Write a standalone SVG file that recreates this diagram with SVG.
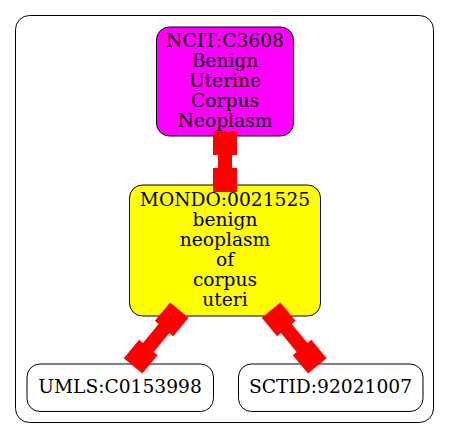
<svg xmlns="http://www.w3.org/2000/svg" width="451" height="439" viewBox="0 0 451 439">
<style>
text{font-family:"DejaVu Serif","Liberation Serif",serif;font-size:18.67px;text-anchor:middle;fill:#000}
.n{stroke:#000;stroke-width:1}
.e{fill:#f00}
</style>
<defs>
<path id="vedge" d="M-12,-30.5 h24 v24 h-5 v13 h5 v24 h-24 v-24 h5 v-13 h-5 z"/>
<path id="dedge" d="M-12,-36.3 h24 v24 h-5 v24.6 h5 v24 h-24 v-24 h5 v-24.6 h-5 z"/>
</defs>
<rect width="451" height="439" fill="#fff"/>
<g id="cluster">
<rect x="15.5" y="15.5" width="418" height="407" rx="14" fill="none" stroke="#000"/>
</g>
<g id="ncit">
<rect class="n" x="156.5" y="27" width="137" height="109" rx="13" fill="#f0f"/>
<text x="225" y="46.7">NCIT:C3608</text>
<text x="225" y="66.7">Benign</text>
<text x="225" y="86.7">Uterine</text>
<text x="225" y="106.7">Corpus</text>
<text x="225" y="126.7">Neoplasm</text>
</g>
<g id="mondo">
<rect class="n" x="129.5" y="185" width="191" height="131" rx="13" fill="#ff0"/>
<text x="225" y="205.7">MONDO:0021525</text>
<text x="225" y="225.7">benign</text>
<text x="225" y="245.7">neoplasm</text>
<text x="225" y="265.7">of</text>
<text x="225" y="285.7">corpus</text>
<text x="225" y="305.7">uteri</text>
</g>
<g id="umls">
<rect class="n" x="27" y="364" width="186.5" height="47.5" rx="13" fill="#fff"/>
<text x="120" y="393.3">UMLS:C0153998</text>
</g>
<g id="sctid">
<rect class="n" x="238.5" y="364" width="184.5" height="47.5" rx="13" fill="#fff"/>
<text x="330.5" y="393.3">SCTID:92021007</text>
</g>
<g id="edges">
<use class="e" href="#vedge" transform="translate(225,161.5)"/>
<use class="e" href="#dedge" transform="translate(156.2,338) rotate(39.6)"/>
<use class="e" href="#dedge" transform="translate(294.2,338) rotate(-39.6)"/>
</g>
</svg>
